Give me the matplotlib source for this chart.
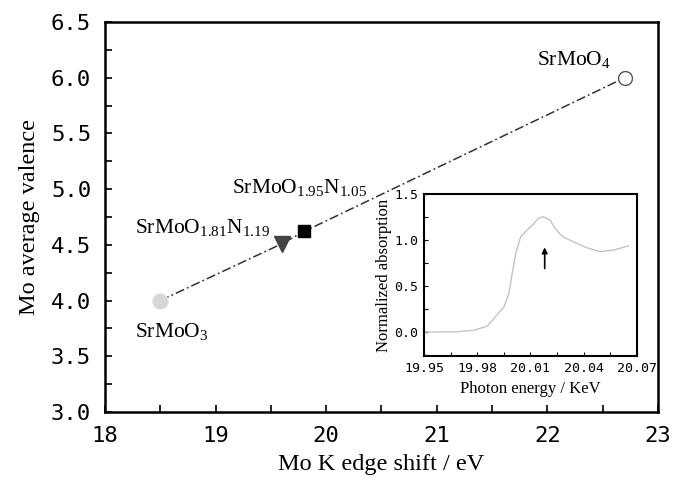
import matplotlib
matplotlib.use("Agg")
import matplotlib.pyplot as plt
from matplotlib.ticker import MultipleLocator, FormatStrFormatter

plt.rcParams["mathtext.fontset"] = "custom"
plt.rcParams["mathtext.rm"] = "Liberation Serif"
plt.rcParams["mathtext.it"] = "Liberation Serif:italic"

# Mo K edge shift (eV) vs Mo average valence
compounds = ["SrMoO3", "SrMoO1.81N1.19", "SrMoO1.95N1.05", "SrMoO4"]
edge_shift = [18.5, 19.6, 19.8, 22.7]
valence = [4.0, 4.51, 4.62, 6.0]

# XANES spectrum shown in the inset
photon_energy = [19.950, 19.9688, 19.9782, 19.9857, 19.9904, 19.9951, 19.9979,
                 19.9997, 20.0017, 20.0045, 20.0082, 20.0120, 20.0144, 20.0172,
                 20.0210, 20.0238, 20.0276, 20.0341, 20.0417, 20.0492, 20.0566,
                 20.0651]
absorption = [0.000, 0.003, 0.020, 0.065, 0.170, 0.275, 0.420,
              0.640, 0.855, 1.036, 1.110, 1.180, 1.236, 1.253,
              1.217, 1.127, 1.043, 0.980, 0.916, 0.873, 0.890,
              0.935]

mono = "DejaVu Sans Mono"
serif = "Liberation Serif"

fig = plt.figure(figsize=(6.73, 4.83), dpi=100)
ax = fig.add_axes([0.156, 0.147, 0.8217, 0.8075])

ax.plot(edge_shift, valence, color="#333333", lw=1.1, dashes=(6, 2, 1.2, 2), zorder=2)
ax.plot(edge_shift[0], valence[0], "o", ms=11, mfc="#d6d6d6", mec="#e2e2e2", zorder=3)
ax.plot(edge_shift[1], valence[1], "v", ms=11, mfc="#444444", mec="#444444", zorder=3)
ax.plot(edge_shift[2], valence[2], "s", ms=9, mfc="black", mec="black", zorder=3)
ax.plot(edge_shift[3], valence[3], "o", ms=10, mfc="white", mec="#555555", mew=1.0, zorder=3)

lab_kw = dict(fontsize=15.5, family=serif)
ax.text(18.27, 3.67, r"$\mathrm{SrMoO_3}$", **lab_kw)
ax.text(18.27, 4.61, r"$\mathrm{SrMoO_{1.81}N_{1.19}}$", **lab_kw)
ax.text(19.15, 4.965, r"$\mathrm{SrMoO_{1.95}N_{1.05}}$", **lab_kw)
ax.text(21.91, 6.114, r"$\mathrm{SrMoO_4}$", **lab_kw)

ax.set_xlim(18, 23)
ax.set_ylim(3.0, 6.5)
ax.xaxis.set_major_locator(MultipleLocator(1))
ax.xaxis.set_minor_locator(MultipleLocator(0.5))
ax.yaxis.set_major_locator(MultipleLocator(0.5))
ax.yaxis.set_minor_locator(MultipleLocator(0.25))
ax.yaxis.set_major_formatter(FormatStrFormatter("%.1f"))
ax.tick_params(which="both", direction="in", length=5, width=1.2,
               top=False, right=False)
ax.tick_params(which="major", labelsize=16)
ax.tick_params(axis="x", which="major", pad=10)
ax.tick_params(axis="y", which="major", pad=10)
for lbl in ax.get_xticklabels() + ax.get_yticklabels():
    lbl.set_family(mono)
for s in ax.spines.values():
    s.set_linewidth(1.8)
ax.set_xlabel("Mo K edge shift / eV", family=serif, fontsize=17.5, labelpad=6)
ax.set_ylabel("Mo average valence", family=serif, fontsize=17.5, labelpad=8)

# Inset: normalized absorption near the Mo K edge
ins = fig.add_axes([0.630, 0.263, 0.3165, 0.3354])
ins.plot(photon_energy, absorption, color="#c4c4c4", lw=1.0)
ins.annotate("", xy=(20.018, 0.95), xytext=(20.018, 0.66),
             arrowprops=dict(arrowstyle="-|>", color="black", lw=1.2,
                             mutation_scale=8))
ins.set_xlim(19.95, 20.07)
ins.set_ylim(-0.26, 1.5)
ins.set_xticks([19.95, 19.98, 20.01, 20.04, 20.07])
ins.xaxis.set_minor_locator(MultipleLocator(0.015))
ins.set_yticks([0.0, 0.5, 1.0, 1.5])
ins.yaxis.set_minor_locator(MultipleLocator(0.25))
ins.yaxis.set_major_formatter(FormatStrFormatter("%.1f"))
ins.xaxis.set_major_formatter(FormatStrFormatter("%.2f"))
ins.tick_params(which="both", direction="in", length=3, width=0.8,
                top=False, right=False, labelsize=9.5, pad=4)
for lbl in ins.get_xticklabels() + ins.get_yticklabels():
    lbl.set_family(mono)
for s in ins.spines.values():
    s.set_linewidth(1.5)
ins.set_xlabel("Photon energy / KeV", family=serif, fontsize=12, labelpad=5)
ins.set_ylabel("Normalized absorption", family=serif, fontsize=12, labelpad=2)

fig.savefig("out.png", dpi=100)
